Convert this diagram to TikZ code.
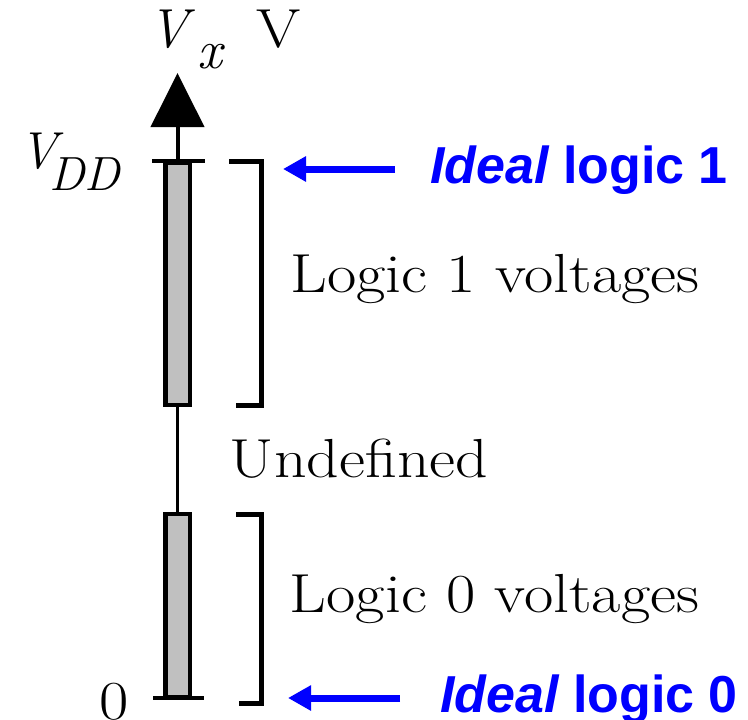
\documentclass[tikz,border=0pt]{standalone}
\usepackage{fontspec}
\newfontfamily\arialfont{Liberation Sans}
\usetikzlibrary{arrows.meta}
\definecolor{bargray}{RGB}{192,192,192}
\definecolor{pureblue}{RGB}{0,0,255}
\newcommand{\widetext}[1]{\scalebox{1.16}[1]{#1}}
\tikzset{
  bar/.style={draw=black, fill=bargray, line width=4.5pt, minimum width=24.5pt, inner sep=0pt, outer sep=0pt},
  tickline/.style={line width=4.5pt},
  bracketline/.style={line width=5pt},
  serif/.style={inner sep=0pt, anchor=base, font=\fontsize{55}{60}\selectfont},
  bluetext/.style={inner sep=0pt, anchor=base, text=pureblue, font=\arialfont\bfseries\fontsize{52}{60}\selectfont},
  bluearrow/.style={draw=pureblue, line width=7pt, -{Triangle[length=23pt,width=24pt]}},
}
\begin{document}
\begin{tikzpicture}[x=1pt,y=-1pt]
\useasboundingbox (0,0) rectangle (748,720);
% bars
\node[bar, minimum height=242pt] (bar1) at (177.5,284) {};
\node[bar, minimum height=183pt] (bar0) at (177.5,605.5) {};
% axis
\coordinate (axtop) at (177.5,73);
\draw[line width=3.5pt] (bar0.north) -- (bar1.south);
\draw[line width=4pt, -{Triangle[length=54pt,width=53pt]}] (bar1.north) -- (axtop);
% ticks
\coordinate (t1l) at (152,161); \coordinate (t1r) at (205,161);
\coordinate (t0l) at (153,698); \coordinate (t0r) at (204,698);
\draw[tickline] (t1l) -- (t1r);
\draw[tickline,line width=4pt] (t0l) -- (t0r);
% brackets
\coordinate (b1a) at (229,161); \coordinate (b1b) at (261.5,405); \coordinate (b1c) at (236,405);
\coordinate (b0a) at (236,514.5); \coordinate (b0b) at (261.5,703); \coordinate (b0c) at (239,703);
\draw[bracketline] (b1a) -| (b1b) -- (b1c);
\draw[bracketline] (b0a) -| (b0b) -- (b0c);
% axis labels
\node[serif, anchor=base west] (vx) at (148,47) {\itshape V};
\node[serif, anchor=base west] (xsub) at (197,68) {\itshape x};
\node[serif, anchor=base west] (vunit) at (256,47) {\widetext{V}};
\node[serif, anchor=base west, font=\fontsize{52}{60}\selectfont] (vdd) at (19,168) {\itshape V};
\node[serif, anchor=base west, font=\fontsize{48}{60}\selectfont] (dd) at (49,190) {\itshape DD};
\node[serif] (zero) at (114,719) {\widetext{0}};
% labels
\node[serif] (l1) at (495,292) {\widetext{Logic 1 voltages}};
\node[serif] (und) at (359,477) {\widetext{Undefined}};
\node[serif] (l0) at (494.5,612) {\widetext{Logic 0 voltages}};
% blue
\node[bluetext] (i1) at (579,183) {\itshape Ideal\upshape{} logic 1};
\node[bluetext] (i0) at (589,712) {\itshape Ideal\upshape{} logic 0};
\coordinate (a1s) at (395,169); \coordinate (a1e) at (283,169);
\coordinate (a0s) at (400,698); \coordinate (a0e) at (288,698);
\draw[bluearrow] (a1s) -- (a1e);
\draw[bluearrow] (a0s) -- (a0e);
\end{tikzpicture}
\end{document}
